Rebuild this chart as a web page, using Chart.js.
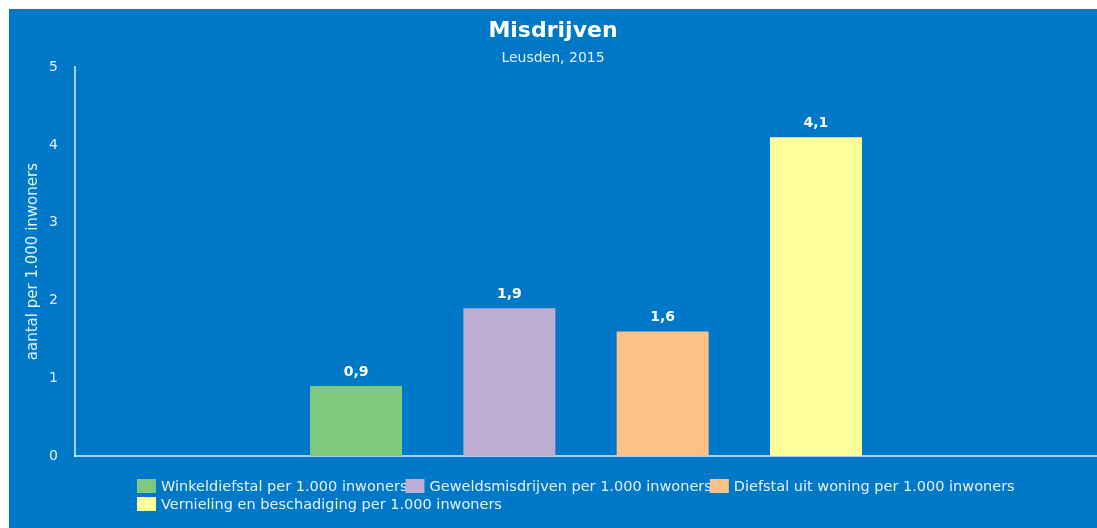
<!DOCTYPE html>
<html>
<head>
<meta charset="utf-8">
<title>Misdrijven</title>
<script src="https://cdn.jsdelivr.net/npm/chart.js@4.4.1/dist/chart.umd.min.js"></script>
<style>
    html, body {
        margin: 0;
        padding: 0;
        background: #ffffff;
    }
    .chart-wrap {
        position: absolute;
        left: 9px;
        top: 9px;
        width: 1088px;
        height: 519px;
        background: #0078c8;
    }
</style>
</head>
<body>
<div class="chart-wrap">
    <canvas id="crimeChart"></canvas>
</div>
<script>
// ----------------------------------------
// Data (Leusden, 2015)
// ----------------------------------------

const categories = [""];
const seriesNames = [
    "Winkeldiefstal per 1.000 inwoners",
    "Geweldsmisdrijven per 1.000 inwoners",
    "Diefstal uit woning per 1.000 inwoners",
    "Vernieling en beschadiging per 1.000 inwoners"
];
const seriesValues = [0.9, 1.9, 1.6, 4.1];
const yTicks = [0, 1, 2, 3, 4, 5];

const seriesColors = ["#7fc97f", "#beaed4", "#fdc086", "#ffff99"];
const fontFamily = "'DejaVu Sans', sans-serif";
const lightText = "rgba(255, 255, 255, 0.9)";
const axisLine = "rgba(255, 255, 255, 0.65)";

function formatNumber(value) {
    return value.toFixed(1).replace(".", ",");
}

// ----------------------------------------
// Plugin: value labels above the bars
// ----------------------------------------

const valueLabels = {
    id: "valueLabels",
    afterDatasetsDraw(chart) {
        const ctx = chart.ctx;
        ctx.save();
        ctx.font = "bold 14px " + fontFamily;
        ctx.fillStyle = "#ffffff";
        ctx.textAlign = "center";
        ctx.textBaseline = "middle";
        chart.data.datasets.forEach((ds, i) => {
            const meta = chart.getDatasetMeta(i);
            meta.data.forEach((bar, j) => {
                ctx.fillText(formatNumber(ds.data[j]), bar.x, bar.y - 14);
            });
        });
        ctx.restore();
    }
};

// ----------------------------------------
// Plugin: legend laid out in rows from the left
// ----------------------------------------

const rowLegend = {
    id: "rowLegend",
    afterDraw(chart) {
        const ctx = chart.ctx;
        const startX = 128;
        const boxW = 19;
        const boxH = 14;
        let x = startX;
        let y = 470;
        ctx.save();
        ctx.font = "14.5px " + fontFamily;
        ctx.textBaseline = "middle";
        ctx.textAlign = "left";
        chart.data.datasets.forEach((ds) => {
            const textW = ctx.measureText(ds.label).width;
            const itemW = boxW + 5 + textW - 2;
            if (x > startX && x + itemW > chart.width) {
                x = startX;
                y += 18;
            }
            ctx.fillStyle = ds.backgroundColor;
            ctx.fillRect(x, y, boxW, boxH);
            ctx.fillStyle = lightText;
            ctx.fillText(ds.label, x + boxW + 5, y + boxH / 2 + 1);
            x += itemW;
        });
        ctx.restore();
    }
};

// ----------------------------------------
// Chart
// ----------------------------------------

const datasets = seriesNames.map((name, i) => ({
    label: name,
    data: [seriesValues[i]],
    backgroundColor: seriesColors[i],
    borderWidth: 0,
    categoryPercentage: 0.6,
    barPercentage: 0.6
}));

new Chart(document.getElementById("crimeChart"), {
    type: "bar",
    data: {
        labels: categories,
        datasets: datasets
    },
    options: {
        responsive: true,
        maintainAspectRatio: false,
        animation: false,
        layout: {
            padding: { left: 0, right: 0, top: 0, bottom: 72 }
        },
        plugins: {
            legend: { display: false },
            tooltip: { enabled: false },
            title: {
                display: true,
                text: "Misdrijven",
                color: "#ffffff",
                font: { family: fontFamily, size: 22, weight: "bold" },
                padding: { top: 9, bottom: 6 }
            },
            subtitle: {
                display: true,
                text: "Leusden, 2015",
                color: lightText,
                font: { family: fontFamily, size: 14 },
                padding: { top: 0, bottom: 0 }
            }
        },
        scales: {
            x: {
                grid: { display: false },
                ticks: { display: false },
                border: { display: true, color: axisLine, width: 2 },
                afterFit(scale) {
                    scale.height = 0;
                }
            },
            y: {
                min: yTicks[0],
                max: yTicks[yTicks.length - 1],
                grid: { display: false, drawTicks: false },
                border: { display: true, color: axisLine, width: 2 },
                ticks: {
                    stepSize: 1,
                    color: lightText,
                    padding: 17,
                    font: { family: fontFamily, size: 14 }
                },
                title: {
                    display: true,
                    text: "aantal per 1.000 inwoners",
                    color: lightText,
                    font: { family: fontFamily, size: 15 },
                    padding: { top: 15, bottom: 0 }
                },
                afterFit(scale) {
                    scale.width = 66;
                }
            }
        }
    },
    plugins: [valueLabels, rowLegend]
});
</script>
</body>
</html>
